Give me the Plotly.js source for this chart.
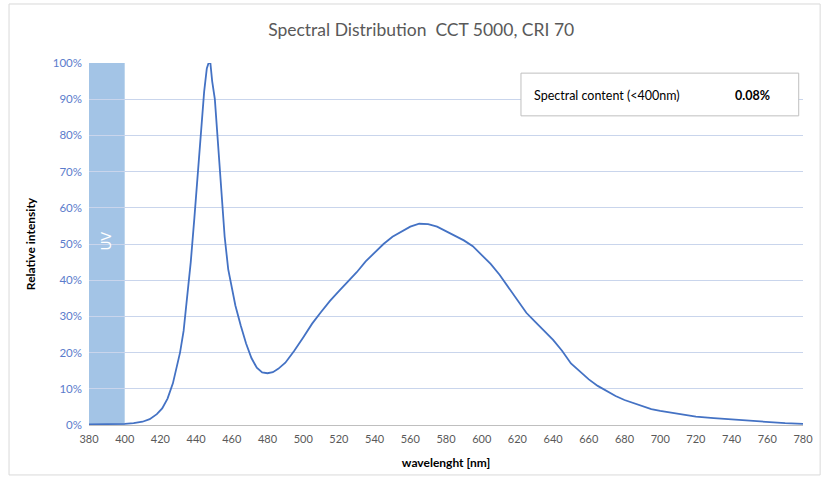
<!DOCTYPE html>
<html>
<head>
<meta charset="utf-8">
<script src="https://cdn.plot.ly/plotly-3.0.1.min.js"></script>
<style>html,body{margin:0;padding:0;background:#fff;}#chart{width:821px;height:479px;}</style>
</head>
<body>
<div id="chart"></div>
<script>
const wavelength = [380, 390, 400, 405, 410, 414, 418, 421, 424, 427, 429, 431, 433, 435, 437, 439, 441, 443, 444.5, 446, 447, 448, 449, 450.5, 452, 454, 456, 458, 460, 462, 465, 468, 471, 474, 477, 480, 483, 486, 490, 495, 500, 505, 510, 515, 520, 525, 530, 535, 540, 545, 550, 555, 560, 565, 570, 575, 580, 585, 590, 595, 600, 605, 610, 615, 620, 625, 630, 635, 640, 645, 650, 655, 660, 665, 670, 675, 680, 685, 690, 695, 700, 710, 720, 730, 740, 750, 760, 770, 780];
const intensity = [0.2, 0.2, 0.3, 0.5, 0.9, 1.6, 3.0, 4.6, 7.3, 11.5, 15.5, 20, 26, 35, 45, 57, 70, 83, 92, 98.5, 100, 100, 95, 90, 80, 65, 52, 43, 37.5, 33, 27.5, 22.5, 18.5, 15.8, 14.5, 14.3, 14.6, 15.5, 17.2, 20.5, 24.2, 28, 31.2, 34.3, 37, 39.6, 42.2, 45.2, 47.6, 50, 52, 53.5, 54.8, 55.6, 55.5, 54.8, 53.5, 52.2, 51, 49.4, 47, 44.5, 41.5, 38, 34.5, 31, 28.5, 26, 23.5, 20.5, 17, 14.8, 12.6, 10.8, 9.4, 8, 6.9, 6, 5.1, 4.4, 3.9, 3.0, 2.3, 1.9, 1.5, 1.2, 0.9, 0.5, 0.3];
const uvBand = [380, 400];
const xTicks = [380,400,420,440,460,480,500,520,540,560,580,600,620,640,660,680,700,720,740,760,780];
const yTicks = [0,10,20,30,40,50,60,70,80,90,100];
const titleText = 'Spectral Distribution&nbsp;&nbsp;CCT 5000, CRI 70';
const boxLabel = 'Spectral content (&lt;400nm)';
const boxValue = '0.08%';

const font = 'Lato, "Open Sans", sans-serif';

const trace = {
  x: wavelength, y: intensity, type: 'scatter', mode: 'lines',
  line: {color: '#4472c4', width: 1.8}, hoverinfo: 'skip'
};

const layout = {
  width: 821, height: 479,
  margin: {l: 89, r: 18, t: 63, b: 54},
  paper_bgcolor: '#ffffff', plot_bgcolor: '#ffffff',
  showlegend: false,
  font: {family: font},
  title: {text: titleText, x: 0.513, xanchor: 'center', y: 0.937, yanchor: 'middle',
          font: {family: font, size: 17.5, color: '#595959'}},
  xaxis: {
    range: [380, 780], tickvals: xTicks, ticktext: xTicks.map(String),
    showgrid: false, zeroline: false, showline: true, linecolor: '#bfbfbf', linewidth: 1,
    ticks: '', ticklen: 0, ticklabelstandoff: 4, tickfont: {family: font, size: 11, color: '#595959'},
    title: {text: '<b>wavelenght [nm]</b>', standoff: 14, font: {family: font, size: 12, color: '#000'}},
    fixedrange: true
  },
  yaxis: {
    range: [0, 100], tickvals: yTicks, ticktext: yTicks.map(v => v + '%'),
    showgrid: true, gridcolor: '#c9d5ec', gridwidth: 1,
    zeroline: false, showline: false,
    ticks: '', ticklabelstandoff: 6, tickfont: {family: font, size: 11.5, color: '#5b7ccc'},
    title: {text: '<b>Relative intensity</b>', standoff: 14, font: {family: font, size: 12, color: '#000'}},
    fixedrange: true
  },
  shapes: [
    {type: 'rect', xref: 'x', yref: 'y', x0: uvBand[0], x1: uvBand[1], y0: 0, y1: 100,
     fillcolor: '#a3c4e6', line: {width: 0}, layer: 'below'},
    {type: 'rect', xref: 'paper', yref: 'paper', x0: 0.605, x1: 0.994, y0: 0.854, y1: 0.972,
     fillcolor: '#ffffff', line: {color: '#bfbfbf', width: 1}},
    {type: 'rect', xref: 'paper', yref: 'paper', x0: -0.112, x1: 1.024, y0: -0.138, y1: 1.163,
     fillcolor: 'rgba(0,0,0,0)', line: {color: '#d9d9d9', width: 1}}
  ],
  annotations: [
    {text: 'UV', xref: 'x', yref: 'y', x: (uvBand[0] + uvBand[1]) / 2, y: 51, textangle: -90,
     showarrow: false, font: {family: font, size: 13, color: '#ffffff'}},
    {text: boxLabel, xref: 'paper', yref: 'paper', x: 0.62, y: 0.911, xanchor: 'left', yanchor: 'middle',
     showarrow: false, font: {family: font, size: 12.5, color: '#000'}},
    {text: '<b>' + boxValue + '</b>', xref: 'paper', yref: 'paper', x: 0.902, y: 0.911, xanchor: 'left', yanchor: 'middle',
     showarrow: false, font: {family: font, size: 12.5, color: '#000'}}
  ]
};

Plotly.newPlot('chart', [trace], layout, {staticPlot: true, displayModeBar: false});
</script>
</body>
</html>
